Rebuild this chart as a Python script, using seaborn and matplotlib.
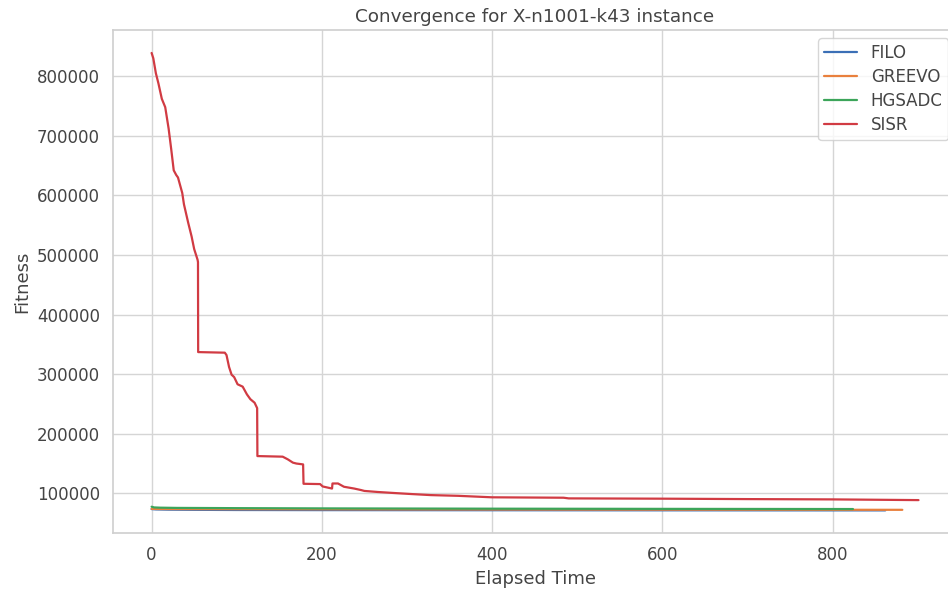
import matplotlib
matplotlib.use("Agg")
import matplotlib.pyplot as plt
import seaborn as sns
import pandas as pd

# ---- data ----
sisr_t = [0, 2, 5, 8, 12, 16, 20, 23, 26, 29, 31, 36, 38, 43, 47, 50, 54, 54.5, 54.7,
          86, 88, 91, 94, 97, 101, 107, 112, 116, 121, 124, 124.3,
          154, 160, 166, 170, 178, 178.5, 198, 201, 212, 212.5, 219, 226, 238, 246, 250,
          266, 285, 305, 328, 360, 400, 484, 490, 600, 700, 800, 901]
sisr_v = [839000, 830000, 805000, 788000, 762000, 748000, 712000, 678000, 642000, 634000,
          630000, 604000, 585000, 554000, 531000, 510000, 492000, 488000, 337000,
          336000, 332000, 312000, 299000, 295000, 283000, 279000, 266000, 258000, 252000,
          243000, 162500,
          161500, 157000, 151500, 150000, 148500, 116000, 115500, 111500, 108000, 116500,
          116500, 111000, 108000, 105500, 104000,
          102200, 100500, 98800, 97000, 95800, 93300, 92600, 91500, 91000, 90300, 89800, 88600]

filo_t = [0, 5, 20, 50, 100, 200, 400, 600, 862]
filo_v = [73500, 73000, 72600, 72300, 72000, 71800, 71600, 71450, 71350]

greevo_t = [0, 10, 50, 150, 300, 500, 700, 882]
greevo_v = [73900, 73700, 73500, 73300, 73000, 72700, 72500, 72300]

hgsadc_t = [0, 3, 10, 30, 100, 200, 400, 600, 824]
hgsadc_v = [77500, 76300, 75900, 75500, 75100, 74700, 74200, 73900, 73600]

algorithms = ["FILO", "GREEVO", "HGSADC", "SISR"]
palette = ["#3b6fb6", "#e9803d", "#3ca55a", "#d13b43"]

rows = []
for name, ts, vs in [("FILO", filo_t, filo_v), ("GREEVO", greevo_t, greevo_v),
                     ("HGSADC", hgsadc_t, hgsadc_v), ("SISR", sisr_t, sisr_v)]:
    for i, (t, v) in enumerate(zip(ts, vs)):
        rows.append({"Elapsed Time": t, "Fitness": v, "Algorithm": name, "order": i})
df = pd.DataFrame(rows)

sns.set_theme(style="whitegrid")
plt.rcParams['font.family'] = ['DejaVu Sans']
text_color = "#444444"
plt.rcParams.update({
    "text.color": text_color,
    "axes.labelcolor": text_color,
    "xtick.color": text_color,
    "ytick.color": text_color,
    "axes.edgecolor": "#d0d0d0",
    "grid.color": "#d5d5d5",
})

fig = plt.figure(figsize=(9.48, 5.90), dpi=100)
ax = fig.add_axes([113.3 / 948, (590 - 533.3) / 590, (956.8 - 113.3) / 948, (533.3 - 30) / 590])

sns.lineplot(data=df, x="Elapsed Time", y="Fitness", hue="Algorithm",
             hue_order=algorithms, palette=palette, estimator=None, sort=False,
             linewidth=1.6, ax=ax)

ax.set_title("Convergence for X-n1001-k43 instance", fontsize=13.2, color=text_color)
ax.set_xlabel("Elapsed Time", fontsize=13)
ax.set_ylabel("Fitness", fontsize=13)
ax.tick_params(axis="both", labelsize=12)
ax.ticklabel_format(axis="y", style="plain", useOffset=False)
ax.set_yticks([100000, 200000, 300000, 400000, 500000, 600000, 700000, 800000])
ax.set_xticks([0, 200, 400, 600, 800])
ax.set_xlim(-45, 946)
ax.set_ylim(32900, 877500)

leg = ax.legend(loc="upper right", fontsize=12, title=None, borderaxespad=0.5,
                labelspacing=0.36, borderpad=0.35)
for line in leg.get_lines():
    line.set_linewidth(1.6)

fig.savefig("out.png", dpi=100)
